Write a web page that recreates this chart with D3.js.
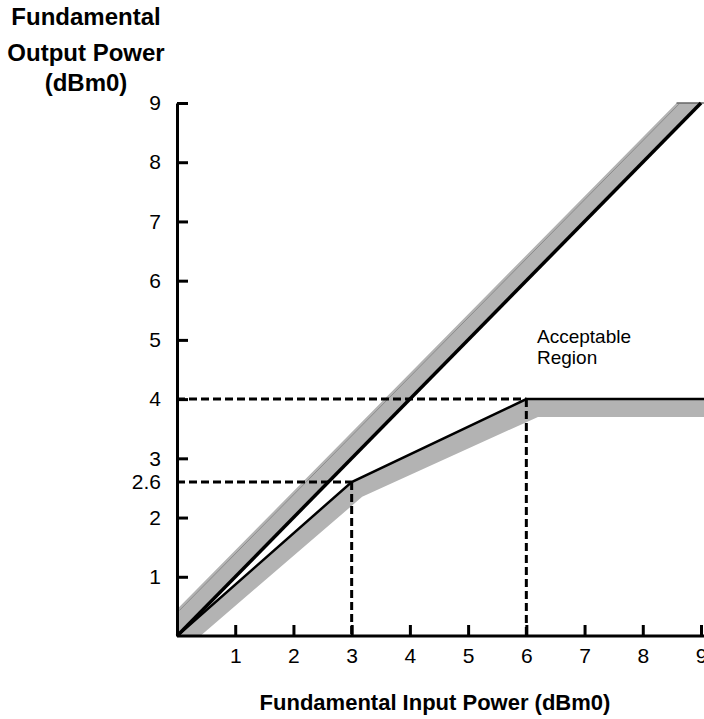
<!DOCTYPE html>
<html>
<head>
<meta charset="utf-8">
<script src="https://cdn.jsdelivr.net/npm/d3@7"></script>
<style>
  body { margin: 0; background: #fff; }
  text { font-family: "Liberation Sans", Arial, Helvetica, sans-serif; fill: #000; }
</style>
</head>
<body>
<svg id="chart" width="704" height="719"></svg>
<script>
// tick values and reference points
const xTicks = [1, 2, 3, 4, 5, 6, 7, 8, 9]
const yTicks = [1, 2, 3, 4, 5, 6, 7, 8, 9]
const yExtraLabel = [2.6]

// ideal (unity gain) line and its tolerance band
const idealLine = [[0, 0], [9, 9]]
const idealBandTop = [[0, 0.45], [8.58, 9], [9.05, 9]]

// compression limit line and its band
const limitLine = [[0, 0], [3, 2.6], [6, 4], [9.2, 4]]
const limitBandBottom = [[0.4, 0], [3.18, 2.35], [6.2, 3.7], [9.2, 3.7]]

// dashed guide points
const guides = [[3, 2.6], [6, 4]]

const svg = d3.select("#chart")

const x = d3.scaleLinear().domain([0, 9]).range([177, 701])
const y = d3.scaleLinear().domain([0, 9]).range([636, 103])

const line = d3.line().x(d => x(d[0])).y(d => y(d[1]))

const grey = "#b3b3b3"
const tickFont = 21

// bands
svg.append("path")
  .attr("d", line(idealLine.concat(idealBandTop.slice().reverse())) + "Z")
  .attr("fill", grey)

svg.append("path")
  .attr("d", line(idealBandTop.slice(0, 2).map(d => [d[0] + 0.04, d[1] - 0.02])))
  .attr("fill", "none")
  .attr("stroke", "#8c8c8c")
  .attr("stroke-width", 1)

svg.append("path")
  .attr("d", line(idealBandTop.slice(1)))
  .attr("fill", "none")
  .attr("stroke", "#666")
  .attr("stroke-width", 1.5)

svg.append("path")
  .attr("d", line(limitLine.concat(limitBandBottom.slice().reverse())) + "Z")
  .attr("fill", grey)

// dashed guides
const dash = "8,4"
guides.forEach(g => {
  svg.append("path")
    .attr("d", line([[0, g[1]], g]))
    .attr("stroke", "#000").attr("stroke-width", 3)
    .attr("stroke-dasharray", dash).attr("fill", "none")
  svg.append("path")
    .attr("d", line([g, [g[0], 0]]))
    .attr("stroke", "#000").attr("stroke-width", 3)
    .attr("stroke-dasharray", dash).attr("fill", "none")
})

// lines
svg.append("path")
  .attr("d", line(idealLine))
  .attr("stroke", "#000").attr("stroke-width", 3.5).attr("fill", "none")

svg.append("path")
  .attr("d", line(limitLine))
  .attr("stroke", "#000").attr("stroke-width", 2.5).attr("fill", "none")
  .attr("stroke-linejoin", "miter")

// axes
const xAxis = svg.append("g")
  .attr("transform", `translate(0,${y(0)})`)
  .call(d3.axisBottom(x).tickValues(xTicks).tickSize(-11).tickPadding(12).tickSizeOuter(0))
xAxis.select(".domain").attr("d", `M${x(0)},0H704`)

const yAxis = svg.append("g")
  .attr("transform", `translate(${x(0)},0)`)
  .call(d3.axisLeft(y).tickValues(yTicks).tickSize(-11).tickPadding(16).tickSizeOuter(0))

;[xAxis, yAxis].forEach(a => {
  a.select(".domain").attr("stroke-width", 3)
  a.selectAll(".tick line").attr("stroke-width", 3)
  a.selectAll(".tick text").attr("font-size", tickFont).attr("font-family", null)
})

yAxis.selectAll(".extra")
  .data(yExtraLabel)
  .join("text")
  .attr("x", -16)
  .attr("y", d => y(d))
  .attr("dy", "0.32em")
  .attr("text-anchor", "end")
  .attr("font-size", tickFont)
  .text(d => d)

// annotation
svg.append("text")
  .attr("x", 537).attr("y", 343)
  .attr("font-size", 19)
  .selectAll("tspan")
  .data(["Acceptable", "Region"])
  .join("tspan")
  .attr("x", 537)
  .attr("dy", (d, i) => i ? 21 : 0)
  .text(d => d)

// titles
svg.append("text")
  .attr("x", 435).attr("y", 710)
  .attr("text-anchor", "middle")
  .attr("font-size", 22).attr("font-weight", "bold")
  .text("Fundamental Input Power (dBm0)")

svg.append("text")
  .attr("text-anchor", "middle")
  .attr("font-size", 24).attr("font-weight", "bold")
  .selectAll("tspan")
  .data(["Fundamental", "Output Power", "(dBm0)"])
  .join("tspan")
  .attr("x", 86)
  .attr("y", (d, i) => [25, 61, 91][i])
  .text(d => d)
</script>
</body>
</html>
